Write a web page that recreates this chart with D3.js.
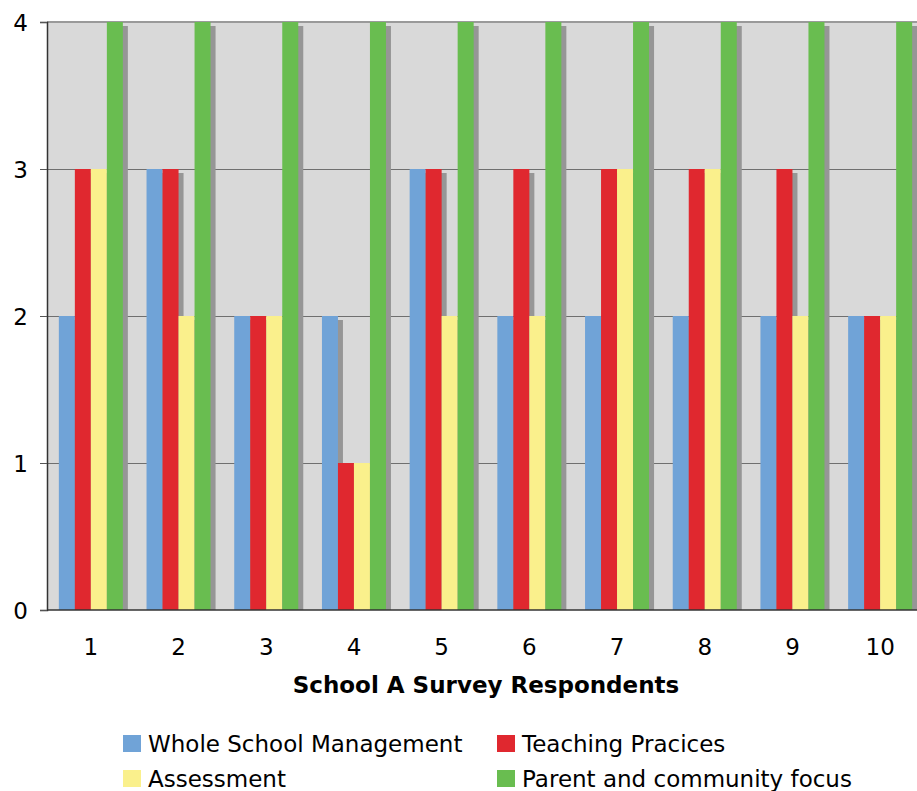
<!DOCTYPE html>
<html>
<head>
<meta charset="utf-8">
<script src="https://cdn.jsdelivr.net/npm/d3@7"></script>
<style>
  html, body { margin: 0; padding: 0; background: #ffffff; }
  svg { display: block; }
  text { font-family: "DejaVu Sans", Verdana, sans-serif; fill: #000; }
</style>
</head>
<body>
<svg id="chart" width="917" height="791"></svg>
<script>
// Survey scores per respondent
const respondents = ["1", "2", "3", "4", "5", "6", "7", "8", "9", "10"];
const seriesNames = ["Whole School Management", "Teaching Pracices", "Assessment", "Parent and community focus"];
const wholeSchoolManagement = [2, 3, 2, 2, 3, 2, 2, 2, 2, 2];
const teachingPractices     = [3, 3, 2, 1, 3, 3, 3, 3, 3, 2];
const assessment            = [3, 2, 2, 1, 2, 2, 3, 3, 2, 2];
const parentCommunity       = [4, 4, 4, 4, 4, 4, 4, 4, 4, 4];
const yTicks = [0, 1, 2, 3, 4];
const xTitle = "School A Survey Respondents";

const seriesValues = [wholeSchoolManagement, teachingPractices, assessment, parentCommunity];
const colors = ["#70a3d7", "#e0282f", "#faf08c", "#69bd50"];

const svg = d3.select("#chart");
const plot = { left: 47, top: 22, right: 924, bottom: 610 };

const x = d3.scaleBand().domain(respondents).range([plot.left, plot.right]).paddingInner(0.27).paddingOuter(0.135);
const xs = d3.scaleBand().domain(seriesNames).range([0, x.bandwidth()]);
const y = d3.scaleLinear().domain([0, 4]).range([plot.bottom, plot.top]);

const rows = respondents.map((r, i) => ({
  r, vals: seriesNames.map((s, k) => ({ s, k, v: seriesValues[k][i] }))
}));

// plot background
svg.append("rect")
  .attr("x", plot.left).attr("y", plot.top)
  .attr("width", plot.right - plot.left).attr("height", plot.bottom - plot.top)
  .attr("fill", "#d9d9d9");

// gridlines
svg.append("g").selectAll("line")
  .data(yTicks.filter(t => t > 0 && t < 4))
  .join("line")
  .attr("x1", plot.left).attr("x2", plot.right)
  .attr("y1", d => Math.round(y(d)) + 0.5).attr("y2", d => Math.round(y(d)) + 0.5)
  .attr("stroke", "#6f6f6f").attr("stroke-width", 1);

svg.append("line")
  .attr("x1", plot.left).attr("x2", plot.right)
  .attr("y1", y(4)).attr("y2", y(4))
  .attr("stroke", "#9a9a9a").attr("stroke-width", 2);

// clip for bar shadows
svg.append("clipPath").attr("id", "plotClip")
  .append("rect").attr("x", plot.left).attr("y", plot.top)
  .attr("width", plot.right - plot.left).attr("height", plot.bottom - plot.top);

const sdx = 5, sdy = 4;
const groups = svg.append("g");

// shadows drawn first, behind every bar
groups.append("g").attr("clip-path", "url(#plotClip)")
  .selectAll("g").data(rows).join("g")
  .attr("transform", d => `translate(${x(d.r)},0)`)
  .selectAll("rect").data(d => d.vals).join("rect")
  .attr("x", d => xs(d.s) + sdx)
  .attr("y", d => y(d.v) + sdy)
  .attr("width", xs.bandwidth())
  .attr("height", d => y(0) - y(d.v))
  .attr("fill", "#969696");

groups.append("g")
  .selectAll("g").data(rows).join("g")
  .attr("transform", d => `translate(${x(d.r)},0)`)
  .selectAll("rect").data(d => d.vals).join("rect")
  .attr("x", d => xs(d.s))
  .attr("y", d => y(d.v))
  .attr("width", xs.bandwidth())
  .attr("height", d => y(0) - y(d.v))
  .attr("fill", d => colors[d.k]);

// y axis
const yAxis = d3.axisLeft(y).tickValues(yTicks).tickSize(7).tickPadding(12).tickFormat(d3.format("d"));
const gy = svg.append("g").attr("transform", `translate(${plot.left},0)`).call(yAxis);
gy.select(".domain").attr("stroke", "#333").attr("stroke-width", 1.5);
gy.selectAll(".tick line").attr("stroke", "#555");
gy.selectAll(".tick text").style("font-size", "23px").attr("dy", "0.35em");

// x axis
const xAxis = d3.axisBottom(x).tickSize(0).tickPadding(29);
const gx = svg.append("g").attr("transform", `translate(0,${plot.bottom})`).call(xAxis);
gx.select(".domain").remove();
svg.append("line")
  .attr("x1", plot.left).attr("x2", plot.right)
  .attr("y1", plot.bottom).attr("y2", plot.bottom)
  .attr("stroke", "#333").attr("stroke-width", 1.5);
gx.selectAll(".tick text").style("font-size", "23px");

svg.append("text")
  .attr("x", 486).attr("y", 693)
  .attr("text-anchor", "middle")
  .style("font-size", "23px").style("font-weight", "bold")
  .text(xTitle);

// legend
const legendPos = [[123, 744], [497, 744], [123, 779], [497, 779]];
const legend = svg.append("g").selectAll("g").data(seriesNames).join("g")
  .attr("transform", (d, i) => `translate(${legendPos[i][0]},${legendPos[i][1]})`);
legend.append("rect").attr("x", 0).attr("y", -9).attr("width", 18).attr("height", 17)
  .attr("fill", (d, i) => colors[i]);
legend.append("text").attr("x", 25).attr("y", 0).attr("dy", "0.35em")
  .style("font-size", "23px").text(d => d);
</script>
</body>
</html>
